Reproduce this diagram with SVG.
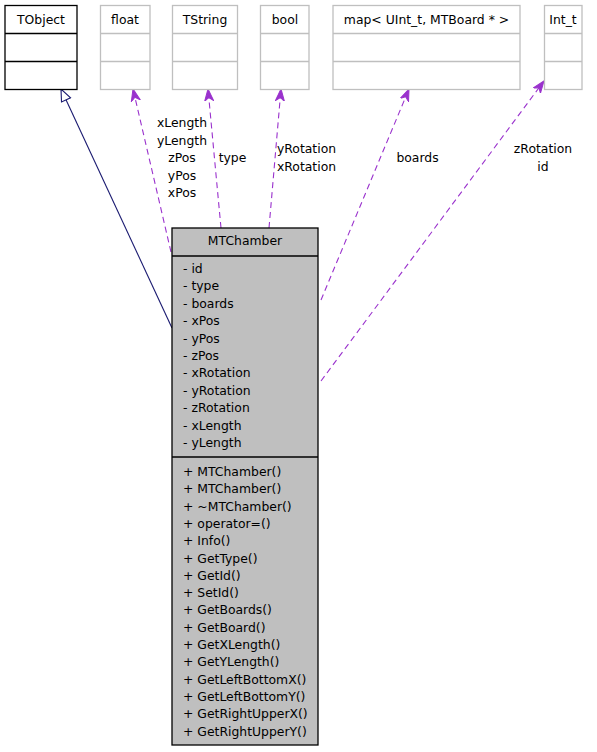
<svg xmlns="http://www.w3.org/2000/svg" width="597" height="752" viewBox="0 0 597 752">
<defs>
<style>
text{font-family:"DejaVu Sans","Liberation Sans",sans-serif;font-size:12.4px;fill:#000}
.c{text-anchor:middle}
.box{fill:#fff;stroke:#bfbfbf;stroke-width:1.3}
.bbox{fill:#fff;stroke:#000;stroke-width:1.3}
.main{fill:#bfbfbf;stroke:#000;stroke-width:1.3}
.gl{stroke:#bfbfbf;stroke-width:1.3}
.bl{stroke:#000;stroke-width:1.3}
.use{fill:none;stroke:#9a32cd;stroke-width:1.1;stroke-dasharray:6,4}
.inh{fill:none;stroke:#191970;stroke-width:1.1}
</style>
<marker id="vee" markerUnits="userSpaceOnUse" orient="auto" markerWidth="14" markerHeight="12" refX="12" refY="6" viewBox="0 0 14 12">
<path d="M0,1.5 L12,6 L0,10.5 L3.5,6 z" fill="#9a32cd" stroke="#9a32cd" stroke-width="1"/>
</marker>
<marker id="tri" markerUnits="userSpaceOnUse" orient="auto" markerWidth="16" markerHeight="14" refX="13" refY="7" viewBox="0 0 16 14">
<path d="M1,2 L13,7 L1,12 z" fill="#fff" stroke="#191970" stroke-width="1.1"/>
</marker>
</defs>
<rect width="597" height="752" fill="#fff"/>

<g id="connectors">
<path class="inh" d="M172,328 L61,89" marker-end="url(#tri)"/>
<path class="use" d="M171,252 L133,89" marker-end="url(#vee)"/>
<path class="use" d="M221,228 L208,89" marker-end="url(#vee)"/>
<path class="use" d="M269,228 L281,89" marker-end="url(#vee)"/>
<path class="use" d="M321,300 L409,89" marker-end="url(#vee)"/>
<path class="use" d="M321,381 L544,81" marker-end="url(#vee)"/>
<text class="c" x="182" y="127">xLength</text>
<text class="c" x="182" y="144.5">yLength</text>
<text class="c" x="182" y="162">zPos</text>
<text class="c" x="182" y="179.5">yPos</text>
<text class="c" x="182" y="197">xPos</text>
<text class="c" x="232.5" y="162">type</text>
<text class="c" x="306.5" y="153">yRotation</text>
<text class="c" x="306.5" y="170.5">xRotation</text>
<text class="c" x="417.5" y="162">boards</text>
<text class="c" x="543" y="153">zRotation</text>
<text class="c" x="543" y="170.5">id</text>
</g>

<g id="TObject">
<rect class="bbox" x="5" y="5.5" width="72" height="84"/>
<line class="bl" x1="5" y1="33.5" x2="77" y2="33.5"/>
<line class="bl" x1="5" y1="61.5" x2="77" y2="61.5"/>
<text class="c" x="41" y="23.5">TObject</text>
</g>

<g id="float">
<rect class="box" x="100.5" y="5.5" width="49.5" height="84"/>
<line class="gl" x1="100.5" y1="33.5" x2="150" y2="33.5"/>
<line class="gl" x1="100.5" y1="61.5" x2="150" y2="61.5"/>
<text class="c" x="125" y="23.5">float</text>
</g>

<g id="TString">
<rect class="box" x="172.5" y="5.5" width="65" height="84"/>
<line class="gl" x1="172.5" y1="33.5" x2="237.5" y2="33.5"/>
<line class="gl" x1="172.5" y1="61.5" x2="237.5" y2="61.5"/>
<text class="c" x="205" y="23.5">TString</text>
</g>

<g id="bool">
<rect class="box" x="260.5" y="5.5" width="48.5" height="84"/>
<line class="gl" x1="260.5" y1="33.5" x2="309" y2="33.5"/>
<line class="gl" x1="260.5" y1="61.5" x2="309" y2="61.5"/>
<text class="c" x="285" y="23.5">bool</text>
</g>

<g id="map">
<rect class="box" x="333" y="5.5" width="187" height="84"/>
<line class="gl" x1="333" y1="33.5" x2="520" y2="33.5"/>
<line class="gl" x1="333" y1="61.5" x2="520" y2="61.5"/>
<text class="c" x="426.5" y="23.5">map&lt; UInt_t, MTBoard * &gt;</text>
</g>

<g id="Int_t">
<rect class="box" x="544.5" y="5.5" width="37.5" height="84"/>
<line class="gl" x1="544.5" y1="33.5" x2="582" y2="33.5"/>
<line class="gl" x1="544.5" y1="61.5" x2="582" y2="61.5"/>
<text class="c" x="563" y="23.5">Int_t</text>
</g>

<g id="MTChamber">
<rect class="main" x="172" y="228" width="146" height="517"/>
<line class="bl" x1="172" y1="256" x2="318" y2="256"/>
<line class="bl" x1="172" y1="457" x2="318" y2="457"/>
<text class="c" x="245" y="245">MTChamber</text>
<text x="183" y="273">- id</text>
<text x="183" y="290.4">- type</text>
<text x="183" y="307.8">- boards</text>
<text x="183" y="325.2">- xPos</text>
<text x="183" y="342.6">- yPos</text>
<text x="183" y="360">- zPos</text>
<text x="183" y="377.4">- xRotation</text>
<text x="183" y="394.8">- yRotation</text>
<text x="183" y="412.2">- zRotation</text>
<text x="183" y="429.6">- xLength</text>
<text x="183" y="447">- yLength</text>
<text x="183" y="476">+ MTChamber()</text>
<text x="183" y="493.3">+ MTChamber()</text>
<text x="183" y="510.6">+ ~MTChamber()</text>
<text x="183" y="527.9">+ operator=()</text>
<text x="183" y="545.2">+ Info()</text>
<text x="183" y="562.5">+ GetType()</text>
<text x="183" y="579.8">+ GetId()</text>
<text x="183" y="597.1">+ SetId()</text>
<text x="183" y="614.4">+ GetBoards()</text>
<text x="183" y="631.7">+ GetBoard()</text>
<text x="183" y="649">+ GetXLength()</text>
<text x="183" y="666.3">+ GetYLength()</text>
<text x="183" y="683.6">+ GetLeftBottomX()</text>
<text x="183" y="700.9">+ GetLeftBottomY()</text>
<text x="183" y="718.2">+ GetRightUpperX()</text>
<text x="183" y="735.5">+ GetRightUpperY()</text>
</g>
</svg>
